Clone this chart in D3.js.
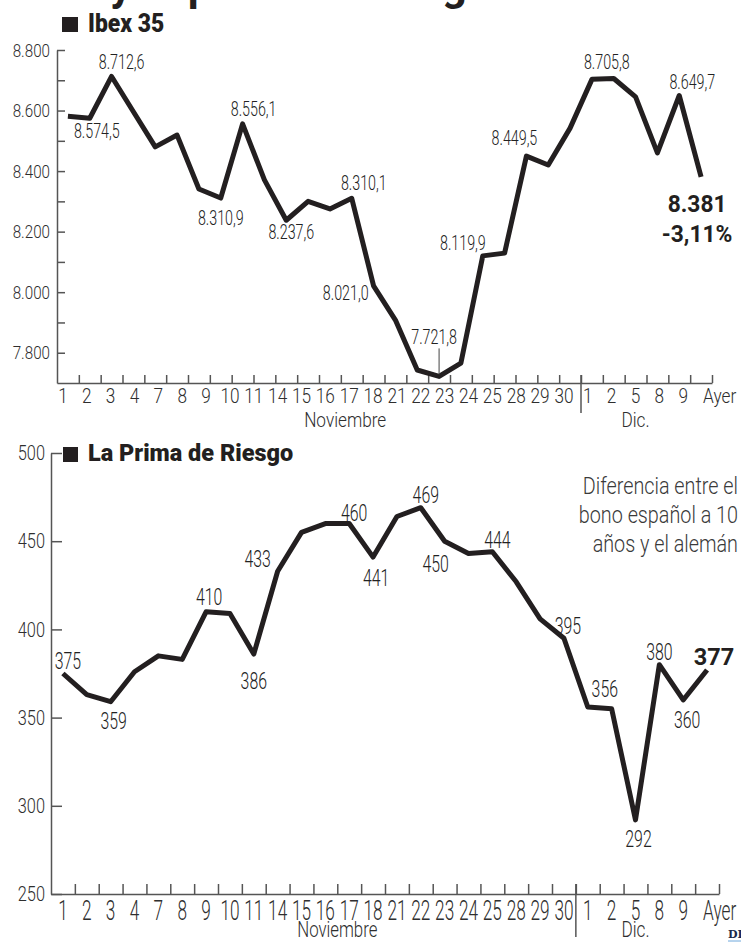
<!DOCTYPE html>
<html><head><meta charset="utf-8">
<script src="https://cdn.jsdelivr.net/npm/d3@7"></script>
<style>
html,body{margin:0;padding:0;background:#fff;}
svg{display:block;}
</style></head><body>
<svg id="chart" width="741" height="943"></svg>
<script>
// ---------------- DATA ----------------
const dates = ["1","2","3","4","7","8","9","10","11","14","15","16","17","18","21","22","23","24","25","28","29","30","1","2","5","8","9","Ayer"];
const months = ["Noviembre","Dic."];
const novDates = 22;

const ibexValues = [8581, 8574.5, 8712.6, 8596, 8480, 8519, 8341, 8310.9, 8556.1, 8371,
  8237.6, 8300, 8275, 8310.1, 8021.0, 7908, 7743, 7721.8, 7766, 8119.9,
  8129, 8449.5, 8420, 8542, 8703, 8705.8, 8645, 8460, 8649.7, 8381];
const ibexNovPoints = 24;
const ibexChange = -3.11;
const ibexTicks = [7800, 7900, 8000, 8100, 8200, 8300, 8400, 8500, 8600, 8700, 8800];

const primaValues = [375, 363, 359, 376, 385, 383, 410, 409, 386, 433,
  455, 460, 460, 441, 464, 469, 450, 443, 444, 427,
  406, 395, 356, 355, 292, 380, 360, 377];
const primaTicks = [250, 300, 350, 400, 450, 500];

const titles = ["Ibex 35", "La Prima de Riesgo"];
const headline = "El Ibex y la prima de riesgo";
const note = ["Diferencia entre el", "bono español a 10", "años y el alemán"];

// label placement (index of point + offsets), layout only
const ibexLabelPos = [
  {i:1, dx:7, dy:20}, {i:2, dx:10, dy:-7}, {i:7, dx:0, dy:27}, {i:8, dx:11, dy:-8},
  {i:10, dx:5, dy:19}, {i:13, dx:12, dy:-8}, {i:14, dx:-5, dy:14, anchor:"end"},
  {i:17, dx:-5, dy:-32, leader:true}, {i:19, dx:3, dy:-6, anchor:"end"},
  {i:21, dx:-12, dy:-11}, {i:25, dx:-7, dy:-10}, {i:28, dx:13, dy:-6}
];
const primaLabelPos = [
  {i:0, dx:5, dy:-5}, {i:2, dx:3, dy:27}, {i:6, dx:3, dy:-7}, {i:8, dx:0, dy:35},
  {i:9, dx:-20, dy:-4}, {i:12, dx:5, dy:-3}, {i:13, dx:3, dy:29}, {i:15, dx:5, dy:-5},
  {i:16, dx:-9, dy:31}, {i:18, dx:5, dy:-4}, {i:21, dx:4, dy:-4}, {i:22, dx:17, dy:-10},
  {i:24, dx:3, dy:27}, {i:25, dx:0, dy:-5}, {i:26, dx:4, dy:28}
];

// ---------------- SETUP ----------------
const svg = d3.select("#chart");
const es = d3.formatLocale({decimal: ",", thousands: ".", grouping: [3], currency: ["", "€"], minus: "-"});
const f1 = es.format(",.1f"), f0 = es.format(",.0f"), f2 = es.format(".2f");
const INK = "#231f20", AX = "#555", TXT = "#2e2e2e";

function txt(g, x, y, s, o = {}) {
  return g.append("text")
    .attr("transform", `translate(${x},${y}) scale(${o.sx || 1},${o.sy || 1})`)
    .attr("text-anchor", o.anchor || "middle")
    .attr("font-family", o.family || "Roboto")
    .attr("font-size", o.size || 20)
    .attr("font-weight", o.weight || 300)
    .attr("fill", o.fill || TXT)
    .text(s);
}
function styleAxis(g, size, sx, sw) {
  g.selectAll("path.domain").attr("stroke", AX).attr("stroke-width", sw);
  g.selectAll(".tick line").attr("stroke", AX).attr("stroke-width", sw);
  g.selectAll(".tick text").each(function () {
    const t = d3.select(this);
    t.attr("x", +t.attr("x") / sx).attr("transform", `scale(${sx},1)`)
      .attr("font-family", "Roboto").attr("font-weight", 300)
      .attr("font-size", size).attr("fill", TXT);
  });
}

// headline (cropped at the top edge of the picture)
{
  const hl = svg.append("text").attr("font-family", "Roboto").attr("font-weight", 700)
    .attr("font-size", 32).attr("fill", INK).attr("x", 0).attr("y", 0).text(headline);
  const n = hl.node();
  const iy = headline.indexOf("y "), ig = headline.lastIndexOf("g");
  const d = n.getStartPositionOfChar(ig).x - n.getStartPositionOfChar(iy).x;
  hl.attr("font-size", 32 * (442 - 110) / d);
  hl.attr("x", 110 - n.getStartPositionOfChar(iy).x);
}

// ---------------- TOP: IBEX ----------------
const xTop = d3.scaleLinear().domain([0, ibexValues.length]).range([57, 712]);
const yTop = d3.scaleLinear().domain([7700, 8800]).range([383, 50]);
const xDates = d3.scaleLinear().domain([0, dates.length]).range([51, 719]);

const gTop = svg.append("g");
gTop.append("rect").attr("x", 62).attr("y", 17).attr("width", 16).attr("height", 15).attr("fill", INK);
txt(gTop, 88, 32, titles[0], {anchor: "start", size: 26, weight: 900, sx: 0.88, fill: INK});

const yAxT = gTop.append("g").attr("transform", `translate(${xTop(0)},0)`)
  .call(d3.axisLeft(yTop).tickValues(ibexTicks).tickSize(-8).tickSizeOuter(0).tickPadding(7)
    .tickFormat(d => d % 200 === 0 ? f0(d) : ""));
styleAxis(yAxT, 19, 0.8, 1.5);

const xAxT = gTop.append("g").attr("transform", `translate(0,${yTop(7700)})`)
  .call(d3.axisBottom(xTop).tickValues(d3.range(1, ibexValues.length + 1)).tickSize(-8).tickSizeOuter(0).tickFormat(""));
styleAxis(xAxT, 19, 1, 1.5);
gTop.append("line").attr("x1", xTop(ibexNovPoints)).attr("x2", xTop(ibexNovPoints))
  .attr("y1", yTop(7700) - 8).attr("y2", yTop(7700) + 30).attr("stroke", AX).attr("stroke-width", 1.5);

dates.forEach((d, i) => {
  const last = i === dates.length - 1;
  txt(gTop, xDates(i + 0.5) + (last ? -4 : 0), yTop(7700) + 20, d, {size: 21, sx: 0.82, anchor: last ? "start" : "middle"});
});
txt(gTop, xTop(13.2), yTop(7700) + 44, months[0], {size: 21, sx: 0.82});
txt(gTop, xDates(novDates + 2.5), yTop(7700) + 44, months[1], {size: 21, sx: 0.82});

gTop.append("path").datum(ibexValues)
  .attr("fill", "none").attr("stroke", INK).attr("stroke-width", 5)
  .attr("stroke-linejoin", "round")
  .attr("d", d3.line().x((d, i) => xTop(i + 0.5)).y(d => yTop(d)));

ibexLabelPos.forEach(p => {
  const px = xTop(p.i + 0.5), py = yTop(ibexValues[p.i]);
  txt(gTop, px + p.dx, py + p.dy, f1(ibexValues[p.i]), {size: 21, sx: 0.68, anchor: p.anchor || "middle", fill: "#222"});
  if (p.leader) gTop.append("line").attr("x1", px).attr("x2", px).attr("y1", py + p.dy + 4).attr("y2", py - 2)
    .attr("stroke", "#444").attr("stroke-width", 1);
});
{
  const li = ibexValues.length - 1, px = xTop(li + 0.5), py = yTop(ibexValues[li]);
  txt(gTop, px - 4, py + 35, f0(ibexValues[li]), {size: 24, weight: 700, sx: 0.95, fill: INK});
  txt(gTop, px - 4, py + 65, f2(ibexChange) + "%", {size: 24, weight: 700, sx: 0.95, fill: INK});
}

// ---------------- BOTTOM: PRIMA ----------------
const xBot = d3.scaleLinear().domain([0, primaValues.length]).range([51, 719]);
const yBot = d3.scaleLinear().domain([250, 500]).range([894, 453]);
const gBot = svg.append("g");

const yAxB = gBot.append("g").attr("transform", `translate(${xBot(0)},0)`)
  .call(d3.axisLeft(yBot).tickValues(primaTicks).tickSize(-11).tickSizeOuter(0).tickPadding(6));
styleAxis(yAxB, 21, 0.78, 1.5);
gBot.append("rect").attr("x", 63).attr("y", 447).attr("width", 15).attr("height", 15).attr("fill", INK);
txt(gBot, 88, 461, titles[1], {anchor: "start", size: 23, weight: 900, sx: 1.02, fill: INK});

const xAxB = gBot.append("g").attr("transform", `translate(0,${yBot(250)})`)
  .call(d3.axisBottom(xBot).tickValues(d3.range(1, primaValues.length + 1)).tickSize(-10).tickSizeOuter(0).tickFormat(""));
styleAxis(xAxB, 19, 1, 1.5);
gBot.append("line").attr("x1", xBot(novDates)).attr("x2", xBot(novDates))
  .attr("y1", yBot(250) - 10).attr("y2", yBot(250) + 43).attr("stroke", AX).attr("stroke-width", 1.5);

dates.forEach((d, i) => {
  const last = i === dates.length - 1;
  txt(gBot, xBot(i + 0.5) + (last ? -4 : 0), yBot(250) + 26, d, {size: 21, sx: 0.82, sy: 1.35, anchor: last ? "start" : "middle"});
});
txt(gBot, xBot(12), yBot(250) + 43, months[0], {size: 20, sx: 0.84, sy: 1.1});
txt(gBot, xBot(novDates + 2.5), yBot(250) + 43, months[1], {size: 20, sx: 0.86, sy: 1.12});

gBot.append("path").datum(primaValues)
  .attr("fill", "none").attr("stroke", INK).attr("stroke-width", 5)
  .attr("stroke-linejoin", "round")
  .attr("d", d3.line().x((d, i) => xBot(i + 0.5)).y(d => yBot(d)));

primaLabelPos.forEach(p => {
  const px = xBot(p.i + 0.5), py = yBot(primaValues[p.i]);
  txt(gBot, px + p.dx, py + p.dy, f0(primaValues[p.i]), {size: 24, sx: 0.66, anchor: p.anchor || "middle", fill: "#222"});
});
{
  const li = primaValues.length - 1, px = xBot(li + 0.5), py = yBot(primaValues[li]);
  txt(gBot, px + 7, py - 5, f0(primaValues[li]), {size: 24, weight: 700, sx: 0.98, fill: INK});
}

note.forEach((s, k) => txt(gBot, 738, 494 + k * 29, s, {anchor: "end", size: 23, sx: 0.86, fill: "#3a3a3a"}));

// source logo fragment
txt(svg, 728, 938, "DI", {anchor: "start", size: 11, weight: 700, family: "DejaVu Serif", fill: "#1b2a4a"});
svg.append("line").attr("x1", 728).attr("x2", 741).attr("y1", 941).attr("y2", 941).attr("stroke", "#6fa8dc").attr("stroke-width", 1);
</script>
</body></html>
